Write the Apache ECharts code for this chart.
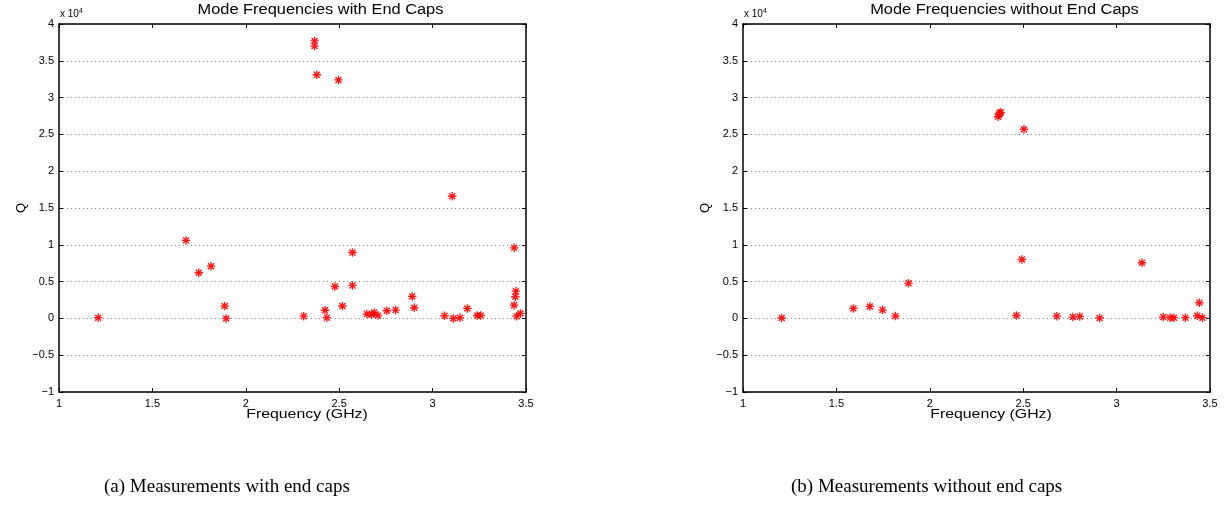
<!DOCTYPE html>
<html>
<head>
<meta charset="utf-8">
<script src="https://cdn.jsdelivr.net/npm/echarts@6/dist/echarts.min.js"></script>
<style>
  html, body { margin: 0; padding: 0; background: #fff; }
  #chart { width: 1229px; height: 510px; }
</style>
</head>
<body>
<div id="chart"></div>
<script>
// measured modes, Q values as raw numbers (axis shows them x 10^4)
const capsFreq = [1.21, 1.68, 1.748, 1.814, 1.887, 1.895, 2.31, 2.368, 2.368, 2.38,
  2.424, 2.434, 2.477, 2.496, 2.517, 2.571, 2.571, 2.648, 2.673, 2.687,
  2.707, 2.755, 2.802, 2.891, 2.902, 3.064, 3.105, 3.111, 3.146, 3.186,
  3.239, 3.257, 3.437, 3.446, 3.443, 3.436, 3.45, 3.47]
const capsQ = [100, 10600, 6200, 7100, 1670, 0, 300, 37700, 37000, 33100,
  1100, 100, 4340, 32400, 1680, 8950, 4480, 590, 500, 810,
  400, 1040, 1130, 2990, 1450, 360, 16600, 0, 100, 1360,
  400, 400, 9590, 3700, 2940, 1800, 300, 680]

const noCapsFreq = [1.207, 1.591, 1.679, 1.747, 1.816, 1.886, 2.366, 2.37, 2.375, 2.38,
  2.504, 2.493, 2.464, 2.68, 2.766, 2.803, 2.909, 3.136, 3.25, 3.287,
  3.307, 3.368, 3.432, 3.443, 3.459]
const noCapsQ = [50, 1360, 1630, 1130, 310, 4790, 27400, 27700, 27900, 28000,
  25700, 8000, 400, 300, 180, 270, 50, 7560, 180, 100,
  100, 100, 360, 2130, 100]

const xTicks = [1, 1.5, 2, 2.5, 3, 3.5]
const yTickLabels = ['\u22121', '\u22120.5', '0', '0.5', '1', '1.5', '2', '2.5', '3', '3.5', '4']

const panelTitles = ['Mode Frequencies with End Caps', 'Mode Frequencies without End Caps']
const captions = ['(a) Measurements with end caps', '(b) Measurements without end caps']

const font = '"Liberation Sans", Arial, Helvetica, sans-serif'
const star = 'path://M-0.8,-5L0.8,-5L0.8,5L-0.8,5Z M-5,-0.8L5,-0.8L5,0.8L-5,0.8Z ' +
  'M-2.9,-4.1L4.1,2.9L2.9,4.1L-4.1,-2.9Z M2.9,-4.1L4.1,-2.9L-2.9,4.1L-4.1,2.9Z'

const grids = [
  {left: 59, top: 24, width: 467, height: 368},
  {left: 743, top: 24, width: 467, height: 368}
]

function zip(xs, ys) {
  return xs.map((x, i) => [x, ys[i]])
}

let xAxes = [], yAxes = []
grids.forEach((g, i) => {
  // bottom + top (box)
  xAxes.push({
    gridIndex: i, type: 'value', min: 1, max: 3.5, interval: 0.5,
    axisLine: {onZero: false, lineStyle: {color: '#000', width: 1.5}},
    axisTick: {inside: true, length: 4, lineStyle: {color: '#000'}},
    axisLabel: {fontFamily: font, fontSize: 11, color: '#000', margin: 6,
      formatter: v => xTicks.includes(v) ? String(v) : ''},
    splitLine: {show: false}
  })
  xAxes.push({
    gridIndex: i, type: 'value', position: 'top', min: 1, max: 3.5, interval: 0.5,
    axisLine: {onZero: false, lineStyle: {color: '#000', width: 1.5}},
    axisTick: {inside: true, length: 4, lineStyle: {color: '#000'}},
    axisLabel: {show: false}, splitLine: {show: false}
  })
  yAxes.push({
    gridIndex: i, type: 'value', min: -10000, max: 40000, interval: 5000,
    name: 'Q', nameLocation: 'middle', nameGap: 30, nameRotate: 90,
    nameTextStyle: {fontFamily: font, fontSize: 13, color: '#000'},
    axisLine: {onZero: false, lineStyle: {color: '#000', width: 1.5}},
    axisTick: {inside: true, length: 4, lineStyle: {color: '#000'}},
    axisLabel: {fontFamily: font, fontSize: 11, color: '#000', margin: 5,
      formatter: v => yTickLabels[Math.round((v + 10000) / 5000)]},
    splitLine: {show: true, lineStyle: {color: '#888', type: [1, 3], width: 1}}
  })
  yAxes.push({
    gridIndex: i, type: 'value', position: 'right', min: -10000, max: 40000, interval: 5000,
    axisLine: {onZero: false, lineStyle: {color: '#000', width: 1.5}},
    axisTick: {inside: true, length: 4, lineStyle: {color: '#000'}},
    axisLabel: {show: false}, splitLine: {show: false}
  })
})

const seriesData = [zip(capsFreq, capsQ), zip(noCapsFreq, noCapsQ)]

// MATLAB's text comes out wider than Arial, so stretch it a bit
function label(text, x, y, size, sx) {
  return {
    type: 'text', x: x, y: y, scaleX: sx,
    style: {text: text, fontFamily: font, fontSize: size, fill: '#000',
      align: 'center', verticalAlign: 'middle'}
  }
}

let myChart = echarts.init(document.getElementById('chart'))
myChart.setOption({
  animation: false,
  backgroundColor: '#fff',
  grid: grids,
  xAxis: xAxes,
  yAxis: yAxes,
  series: seriesData.map((d, i) => ({
    type: 'scatter', xAxisIndex: i * 2, yAxisIndex: i * 2,
    data: d, symbol: star, symbolSize: 8.5,
    itemStyle: {color: '#ff0000', opacity: 0.9}
  })),
  graphic: [
    ...grids.map((g, i) => label(panelTitles[i], g.left + g.width / 2 + 28, 10, 14, 1.17)),
    ...grids.map(g => label('Frequency (GHz)', g.left + g.width / 2 + 14.5, 414, 13, 1.22)),
    ...grids.map(g => ({
      type: 'text', left: g.left + 1, top: 8,
      style: {
        text: 'x 10{sup|4}', fontFamily: font, fontSize: 10, fill: '#000',
        rich: {sup: {fontSize: 7, verticalAlign: 'top', padding: [0, 0, 6, 0]}}
      }
    })),
    ...captions.map((c, i) => ({
      type: 'text', left: i === 0 ? 104 : 791, top: 478,
      style: {text: c, fontFamily: '"Liberation Serif", "DejaVu Serif", serif', fontSize: 19, fill: '#000'}
    }))
  ]
})
</script>
</body>
</html>
